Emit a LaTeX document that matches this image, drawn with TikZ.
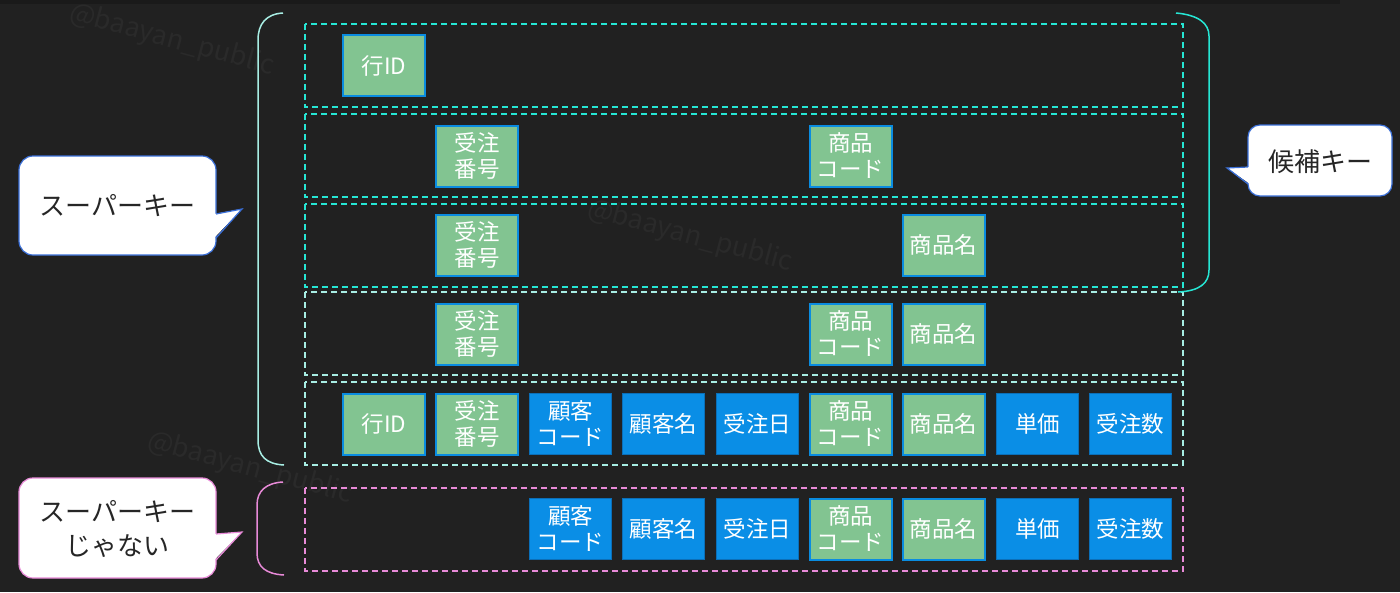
\documentclass[tikz,border=0pt]{standalone}
\usepackage{fontspec}
\newfontfamily\jp{Noto Sans CJK JP}
\definecolor{bg}{HTML}{212121}
\definecolor{topbar}{HTML}{1A1A1A}
\definecolor{wm}{HTML}{2A2A2A}
\definecolor{cyanA}{HTML}{26E6D4}
\definecolor{cyanB}{HTML}{A8EEE4}
\definecolor{pinkA}{HTML}{E88AD8}
\definecolor{gfill}{HTML}{82C491}
\definecolor{gborder}{HTML}{0A8CE0}
\definecolor{bfill}{HTML}{0A8EE6}
\definecolor{bborder}{HTML}{0B6FB8}
\definecolor{calloutblue}{HTML}{3A6FD8}
\definecolor{calloutpink}{HTML}{E88AD8}
\begin{document}
\begin{tikzpicture}[x=1pt,y=-1pt,
  boxbase/.style={rectangle, minimum width=82pt, minimum height=61pt, inner sep=0pt,
    text=white, align=center, font=\jp\fontsize{22.5}{26}\selectfont},
  gbox/.style={boxbase, fill=gfill, draw=gborder, line width=2pt},
  bbox/.style={boxbase, fill=bfill, draw=bborder, line width=1pt},
  rowA/.style={draw=cyanA, line width=1.4pt, dash pattern=on 6pt off 4pt},
  rowB/.style={draw=cyanB, line width=1.4pt, dash pattern=on 6pt off 4pt},
  rowP/.style={draw=pinkA, line width=1.4pt, dash pattern=on 6pt off 4pt},
  brace/.style={line width=1.5pt},
  calltext/.style={text=black!85, align=center, font=\jp\fontsize{26}{34}\selectfont, inner sep=0pt},
  wmark/.style={text=wm, font=\jp\fontsize{27}{30}\selectfont, rotate=-15}
]
% background
\fill[bg] (0,0) rectangle (1400,592);
\fill[topbar] (0,0) rectangle (1340,4);
\useasboundingbox (0,0) rectangle (1400,592);

% watermarks
\node[wmark] (wm1) at (172,40) {@baayan\_public};
\node[wmark] (wm2) at (690,236) {@baayan\_public};
\node[wmark] (wm3) at (250,468) {@baayan\_public};

% dashed rows
\draw[rowA] (305,24) rectangle (1183,107);
\draw[rowA] (305,114) rectangle (1183,197);
\draw[rowA] (305,204) rectangle (1183,287);
\draw[rowB] (305,292) rectangle (1183,375);
\draw[rowB] (305,382) rectangle (1183,465);
\draw[rowP] (305,488) rectangle (1183,571);

% brackets
\draw[brace, cyanB] (283,13) .. controls (266,14) and (258,24) .. (258,40) -- (258,440) .. controls (258,456) and (266,464) .. (284,465);
\draw[brace, cyanA] (1176,13) .. controls (1198,15) and (1209,23) .. (1209,36) -- (1209,270) .. controls (1209,283) and (1200,291) .. (1178,292);
\draw[brace, pinkA] (283,482) .. controls (266,483) and (257,491) .. (257,505) -- (257,553) .. controls (257,567) and (266,574) .. (284,575);

% row 1
\node[gbox] (r1id) at (384,65.5) {行ID};
% row 2
\node[gbox] (r2jn) at (477,156) {受注\\番号};
\node[gbox] (r2sc) at (850.5,156) {商品\\コード};
% row 3
\node[gbox] (r3jn) at (477,245) {受注\\番号};
\node[gbox] (r3sn) at (943.5,245) {商品名};
% row 4
\node[gbox] (r4jn) at (477,334) {受注\\番号};
\node[gbox] (r4sc) at (850.5,334) {商品\\コード};
\node[gbox] (r4sn) at (943.5,334) {商品名};
% row 5
\node[gbox] (r5id) at (384,424) {行ID};
\node[gbox] (r5jn) at (477,424) {受注\\番号};
\node[bbox] (r5kc) at (570.5,424) {顧客\\コード};
\node[bbox] (r5kn) at (663.5,424) {顧客名};
\node[bbox] (r5jd) at (757.5,424) {受注日};
\node[gbox] (r5sc) at (850.5,424) {商品\\コード};
\node[gbox] (r5sn) at (943.5,424) {商品名};
\node[bbox] (r5tk) at (1037.5,424) {単価};
\node[bbox] (r5js) at (1130.5,424) {受注数};
% row 6
\node[bbox] (r6kc) at (570.5,529) {顧客\\コード};
\node[bbox] (r6kn) at (663.5,529) {顧客名};
\node[bbox] (r6jd) at (757.5,529) {受注日};
\node[gbox] (r6sc) at (850.5,529) {商品\\コード};
\node[gbox] (r6sn) at (943.5,529) {商品名};
\node[bbox] (r6tk) at (1037.5,529) {単価};
\node[bbox] (r6js) at (1130.5,529) {受注数};

% callout: super key
\draw[fill=white, draw=calloutblue, line width=1.2pt, rounded corners=14pt] (19,156) rectangle (216,255);
\fill[white] (214,214) -- (242,209) -- (214,238) -- cycle;
\draw[calloutblue, line width=1.2pt, line join=miter] (216,214) -- (242,209) -- (216,238);
\node[calltext] (cSK) at (117.5,206) {スーパーキー};

% callout: not super key
\draw[fill=white, draw=calloutpink, line width=1.2pt, rounded corners=14pt] (19,478) rectangle (216,578);
\fill[white] (214,534) -- (242,532) -- (214,560) -- cycle;
\draw[calloutpink, line width=1.2pt, line join=miter] (216,534) -- (242,532) -- (216,560);
\node[calltext] (cNSK) at (117.5,529) {スーパーキー\\じゃない};

% callout: candidate key
\draw[fill=white, draw=calloutblue, line width=1.2pt, rounded corners=12pt] (1248,125) rectangle (1392,196);
\fill[white] (1250,167) -- (1227,168) -- (1250,184) -- cycle;
\draw[calloutblue, line width=1.2pt, line join=miter] (1248,167) -- (1227,168) -- (1248,184);
\node[calltext] (cCK) at (1320,162) {候補キー};
\end{tikzpicture}
\end{document}
